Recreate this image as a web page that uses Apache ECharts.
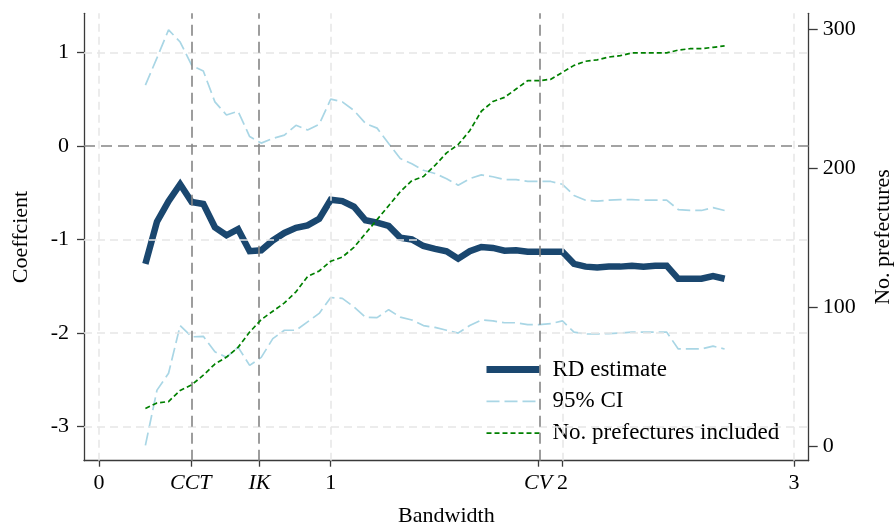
<!DOCTYPE html>
<html>
<head>
<meta charset="utf-8">
<script src="https://cdn.jsdelivr.net/npm/echarts@6/dist/echarts.min.js"></script>
<style>
  html, body { margin: 0; padding: 0; background: #fff; }
  #chart { width: 896px; height: 525px; }
</style>
</head>
<body>
<div id="chart"></div>
<script>
// Bandwidths at which the RD estimate was computed
const bandwidth = [
  0.20, 0.25, 0.30, 0.35, 0.40, 0.45, 0.50, 0.55, 0.60, 0.65,
  0.70, 0.75, 0.80, 0.85, 0.90, 0.95, 1.00, 1.05, 1.10, 1.15,
  1.20, 1.25, 1.30, 1.35, 1.40, 1.45, 1.50, 1.55, 1.60, 1.65,
  1.70, 1.75, 1.80, 1.85, 1.90, 1.95, 2.00, 2.05, 2.10, 2.15,
  2.20, 2.25, 2.30, 2.35, 2.40, 2.45, 2.50, 2.55, 2.60, 2.65,
  2.70
];

const rdEstimate = [
  -1.26, -0.81, -0.59, -0.41, -0.60, -0.62, -0.87, -0.955, -0.89, -1.125,
  -1.115, -1.01, -0.93, -0.875, -0.85, -0.78, -0.575, -0.59, -0.65, -0.795,
  -0.82, -0.855, -0.98, -1.00, -1.07, -1.10, -1.126, -1.205, -1.126, -1.08,
  -1.09, -1.12, -1.115, -1.13, -1.13, -1.13, -1.13, -1.26, -1.29, -1.30,
  -1.29, -1.29, -1.28, -1.29, -1.28, -1.28, -1.42, -1.42, -1.42, -1.39,
  -1.42
];

const ciUpper = [
  0.65, 0.94, 1.24, 1.11, 0.86, 0.80, 0.47, 0.33, 0.37, 0.10,
  0.03, 0.08, 0.115, 0.22, 0.17, 0.23, 0.50, 0.47, 0.38, 0.24,
  0.19, 0.025, -0.135, -0.19, -0.26, -0.295, -0.35, -0.42, -0.35, -0.31,
  -0.33, -0.36, -0.36, -0.38, -0.38, -0.38, -0.41, -0.53, -0.58, -0.59,
  -0.58, -0.575, -0.575, -0.58, -0.58, -0.58, -0.68, -0.69, -0.69, -0.66,
  -0.69
];

const ciLower = [
  -3.20, -2.61, -2.43, -1.92, -2.04, -2.035, -2.20, -2.26, -2.15, -2.345,
  -2.26, -2.06, -1.97, -1.97, -1.88, -1.79, -1.62, -1.63, -1.72, -1.83,
  -1.835, -1.75, -1.83, -1.86, -1.92, -1.94, -1.97, -2.00, -1.92, -1.86,
  -1.87, -1.89, -1.89, -1.91, -1.91, -1.90, -1.87, -1.99, -2.01, -2.01,
  -2.005, -2.00, -1.99, -1.99, -1.99, -1.99, -2.17, -2.17, -2.17, -2.14,
  -2.17
];

const prefectures = [
  27, 31, 32, 40, 44, 51, 59, 64, 71, 82,
  91, 97, 103, 111, 122, 126, 133, 136, 143, 153,
  163, 173, 183, 191, 194, 202, 211, 217, 227, 241,
  248, 251, 257, 263, 263, 264, 269, 274, 277, 278,
  280, 281, 283, 283, 283, 283, 285, 286, 286, 287,
  288
];

// Optimal bandwidths from the selection procedures
const optimalBandwidths = [0.396, 0.692, 1.895];
const optimalNames = ['CCT', 'IK', 'CV'];

// Axis ticks
const xTicks = [0, 0.396, 0.692, 1, 1.895, 2, 3];
const xTickLabels = ['0', 'CCT', 'IK', '1', 'CV', '2', '3'];
const xGridTicks = [0, 1, 2, 3];
const coefTicks = [-3, -2, -1, 0, 1];
const countTicks = [0, 100, 200, 300];

const SERIF = '"Liberation Serif", "Times New Roman", "DejaVu Serif", serif';
const NAVY = '#1a476f';
const LIGHT_BLUE = '#a9d6e5';
const GREEN = '#008000';
const REF_GRAY = '#858585';
const GRID_GRAY = '#e6e6e6';
const AXIS_COLOR = '#3a3a3a';

const pairs = (ys) => bandwidth.map((b, i) => [b, ys[i]]);

const refLines = [];
xGridTicks.forEach(v => refLines.push({ xAxis: v, lineStyle: { color: GRID_GRAY, width: 1.5, type: [8, 5] } }));
coefTicks.filter(v => v !== 0).forEach(v => refLines.push({ yAxis: v, lineStyle: { color: GRID_GRAY, width: 1.5, type: [8, 5] } }));
optimalBandwidths.forEach(v => refLines.push({ xAxis: v, lineStyle: { color: REF_GRAY, width: 1.6, type: [11, 6] } }));
refLines.push({ yAxis: 0, lineStyle: { color: REF_GRAY, width: 1.6, type: [11, 6] } });

const chart = echarts.init(document.getElementById('chart'), null, { renderer: 'canvas' });

chart.setOption({
  animation: false,
  backgroundColor: '#ffffff',
  textStyle: { fontFamily: SERIF, color: '#000' },
  grid: { left: 84, right: 87.3, top: 13.3, bottom: 64.3, containLabel: false, outerBoundsMode: 'none' },
  legend: {
    data: [
      { name: 'RD estimate', lineStyle: { color: NAVY, width: 7, type: 'solid' } },
      { name: '95% CI', lineStyle: { color: LIGHT_BLUE, width: 1.7, type: [13, 5] } },
      { name: 'No. prefectures included', lineStyle: { color: GREEN, width: 1.7, type: [5, 3] } }
    ],
    orient: 'vertical',
    left: 478,
    top: 353,
    itemWidth: 53,
    itemHeight: 14,
    itemGap: 8.8,
    selectedMode: false,
    itemStyle: { opacity: 0 },
    textStyle: { fontFamily: SERIF, fontSize: 23, color: '#000', lineHeight: 23, padding: [0, 0, 0, 8] }
  },
  xAxis: {
    type: 'value',
    min: -0.065,
    max: 3.063,
    name: 'Bandwidth',
    nameLocation: 'middle',
    nameGap: 45,
    nameTextStyle: { fontFamily: SERIF, fontSize: 22, color: '#000' },
    axisLine: { show: true, onZero: false, lineStyle: { color: AXIS_COLOR, width: 1.3 } },
    axisTick: { show: true, customValues: xTicks, length: 6, lineStyle: { color: AXIS_COLOR, width: 1.3 } },
    axisLabel: {
      customValues: xTicks,
      margin: 12,
      fontFamily: SERIF,
      fontSize: 22,
      color: '#000',
      formatter: (v) => {
        let best = 0;
        xTicks.forEach((t, i) => { if (Math.abs(t - v) < Math.abs(xTicks[best] - v)) best = i; });
        const label = xTickLabels[best];
        return optimalNames.includes(label) ? '{it|' + label + '}' : label;
      },
      rich: { it: { fontFamily: SERIF, fontSize: 22, fontStyle: 'italic', color: '#000' } }
    },
    splitLine: { show: false }
  },
  yAxis: [
    {
      type: 'value',
      position: 'left',
      min: -3.364,
      max: 1.417,
      name: 'Coeffcient',
      nameLocation: 'middle',
      nameGap: 52,
      nameRotate: 90,
      nameTextStyle: { fontFamily: SERIF, fontSize: 22, color: '#000' },
      axisLine: { show: true, onZero: false, lineStyle: { color: AXIS_COLOR, width: 1.3 } },
      axisTick: { show: true, customValues: coefTicks, length: 7, lineStyle: { color: AXIS_COLOR, width: 1.3 } },
      axisLabel: { customValues: coefTicks, margin: 15, fontFamily: SERIF, fontSize: 22, color: '#000' },
      splitLine: { show: false }
    },
    {
      type: 'value',
      position: 'right',
      min: -10.58,
      max: 311.5,
      name: 'No. prefectures',
      nameLocation: 'middle',
      nameGap: 64,
      nameRotate: 90,
      nameTextStyle: { fontFamily: SERIF, fontSize: 22, color: '#000' },
      axisLine: { show: true, onZero: false, lineStyle: { color: AXIS_COLOR, width: 1.3 } },
      axisTick: { show: true, customValues: countTicks, length: 9, lineStyle: { color: AXIS_COLOR, width: 1.3 } },
      axisLabel: { customValues: countTicks, margin: 14, fontFamily: SERIF, fontSize: 22, color: '#000' },
      splitLine: { show: false }
    }
  ],
  series: [
    {
      // grid and reference lines
      type: 'line',
      name: 'reference',
      data: [],
      z: 1,
      silent: true,
      markLine: { silent: true, symbol: ['none', 'none'], label: { show: false }, animation: false, data: refLines }
    },
    {
      type: 'line',
      name: 'RD estimate',
      data: pairs(rdEstimate),
      yAxisIndex: 0,
      symbol: 'none',
      z: 3,
      lineStyle: { color: NAVY, width: 6.5, join: 'miter' },
      itemStyle: { color: NAVY }
    },
    {
      type: 'line',
      name: '95% CI',
      data: pairs(ciUpper),
      yAxisIndex: 0,
      symbol: 'none',
      z: 4,
      lineStyle: { color: LIGHT_BLUE, width: 1.7, type: [13, 5] },
      itemStyle: { color: LIGHT_BLUE }
    },
    {
      type: 'line',
      name: '95% CI',
      data: pairs(ciLower),
      yAxisIndex: 0,
      symbol: 'none',
      z: 4,
      lineStyle: { color: LIGHT_BLUE, width: 1.7, type: [13, 5] },
      itemStyle: { color: LIGHT_BLUE }
    },
    {
      type: 'line',
      name: 'No. prefectures included',
      data: pairs(prefectures),
      yAxisIndex: 1,
      symbol: 'none',
      z: 5,
      lineStyle: { color: GREEN, width: 1.7, type: [5, 3] },
      itemStyle: { color: GREEN }
    }
  ]
});
</script>
</body>
</html>
